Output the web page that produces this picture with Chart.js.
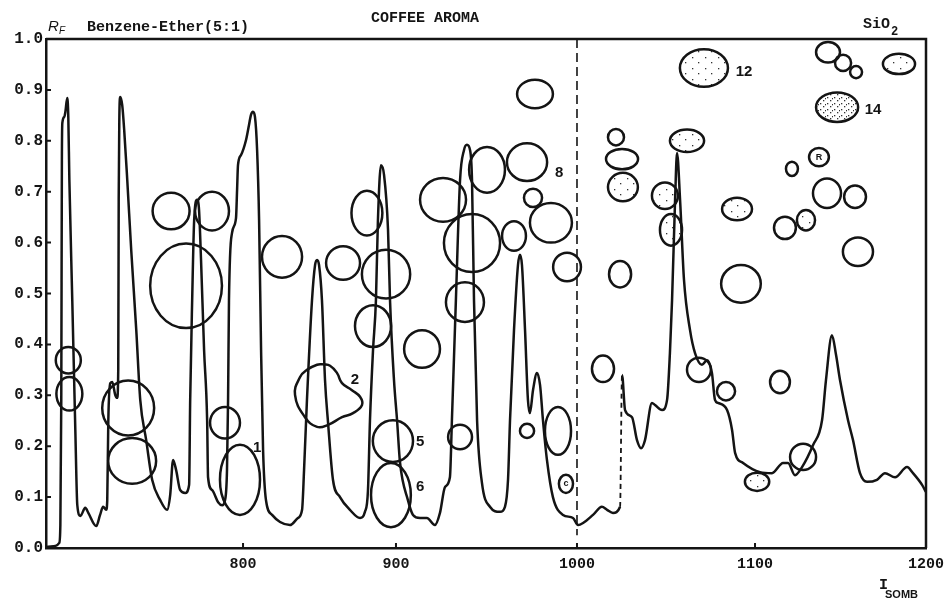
<!DOCTYPE html>
<html><head><meta charset="utf-8">
<script src="https://cdn.jsdelivr.net/npm/chart.js@4.4.0/dist/chart.umd.min.js"></script>
<style>html,body{margin:0;padding:0;background:#fff}canvas{display:block}</style>
</head><body>
<canvas id="c" width="946" height="602"></canvas>
<script>
// ---- Axis definition (printed retention-index scale is not uniform) ----
const X_TICKS = [800, 900, 1000, 1100, 1200];
const X_TICK_LABELS = ['800', '900', '1000', '1100', '1200'];
const AXIS_KNOTS_I = [671, 800, 900, 1000, 1100, 1200];
const AXIS_KNOTS_FRAC = [0, 0.2239, 0.3977, 0.6034, 0.8057, 1];
const Y_MIN = 0, Y_MAX = 1, Y_STEP = 0.1;

// ---- Chromatogram trace (I_SOMB, Rf scale) ----
const TRACE_I = [671.2,677.1,679.7,680.4,681.0,681.4,681.7,683.0,683.7,684.9,685.6,686.3,688.2,690.2,691.5,693.5,696.7,698.7,703.9,706.4,708.4,710.4,711.1,711.8,713.1,714.4,716.3,717.6,718.3,718.6,719.0,719.6,720.9,722.2,724.2,726.8,730.1,732.7,736.6,740.5,745.8,750.3,752.3,754.2,756.2,758.8,762.1,764.7,765.4,766.7,768.0,769.9,771.2,772.5,774.5,776.5,777.1,779.7,783.7,786.3,788.2,789.5,790.2,790.8,792.8,795.4,796.1,796.7,798.7,802.0,803.9,805.2,806.5,807.8,809.2,810.5,811.8,813.1,815.0,819.0,824.2,830.7,835.9,838.6,839.9,841.8,845.1,847.1,848.4,849.7,851.6,853.6,855.6,858.8,863.4,869.9,876.5,879.7,881.7,883.0,885.0,886.9,888.2,890.2,892.2,894.8,896.1,898.7,900.6,902.2,906.6,909.4,913.3,917.1,921.5,924.3,927.1,929.8,930.9,933.1,935.4,937.6,939.2,940.9,942.0,943.1,944.8,947.5,951.9,957.5,960.2,961.9,963.0,965.2,967.4,968.5,969.6,971.3,972.9,974.0,975.7,977.9,979.6,981.2,983.4,986.7,992.3,997.8,1000.6,1003.4,1009.0,1014.0,1016.9,1020.2,1024.2,1025.3,1027.0,1030.9,1033.7,1036.0,1038.2,1042.1,1043.8,1047.8,1050.6,1052.2,1053.4,1055.1,1056.2,1057.9,1060.1,1063.5,1066.3,1070.2,1073.0,1075.8,1077.5,1079.2,1084.3,1087.1,1088.8,1093.3,1102.9,1109.9,1116.4,1119.3,1123.4,1127.5,1133.9,1139.2,1141.5,1145.0,1147.4,1149.7,1154.4,1157.3,1161.4,1165.5,1171.3,1176.0,1181.9,1188.9,1192.4,1197.7,1200];
const TRACE_RF = [0.002,0.004,0.010,0.045,0.291,0.762,0.835,0.847,0.857,0.884,0.847,0.723,0.487,0.232,0.084,0.063,0.079,0.069,0.043,0.065,0.081,0.075,0.094,0.251,0.324,0.326,0.301,0.295,0.350,0.684,0.841,0.886,0.870,0.821,0.723,0.585,0.428,0.291,0.212,0.134,0.094,0.075,0.104,0.173,0.153,0.114,0.108,0.124,0.291,0.487,0.644,0.684,0.664,0.566,0.389,0.251,0.139,0.114,0.090,0.084,0.094,0.153,0.291,0.487,0.619,0.648,0.703,0.752,0.772,0.802,0.831,0.851,0.857,0.847,0.782,0.644,0.389,0.193,0.094,0.065,0.051,0.045,0.059,0.075,0.153,0.291,0.487,0.556,0.566,0.556,0.487,0.330,0.246,0.134,0.100,0.075,0.059,0.071,0.114,0.251,0.389,0.487,0.644,0.752,0.733,0.625,0.487,0.330,0.251,0.169,0.094,0.065,0.059,0.059,0.045,0.069,0.120,0.139,0.251,0.487,0.723,0.782,0.792,0.782,0.723,0.487,0.251,0.128,0.081,0.071,0.081,0.134,0.251,0.428,0.556,0.576,0.556,0.428,0.291,0.265,0.310,0.344,0.320,0.251,0.173,0.100,0.065,0.059,0.045,0.049,0.065,0.081,0.075,0.069,0.081,0.340,0.271,0.257,0.212,0.196,0.212,0.285,0.281,0.271,0.291,0.383,0.487,0.684,0.776,0.684,0.527,0.428,0.383,0.360,0.369,0.344,0.291,0.285,0.271,0.232,0.187,0.167,0.149,0.147,0.167,0.167,0.143,0.159,0.202,0.251,0.330,0.418,0.379,0.330,0.251,0.212,0.147,0.130,0.134,0.147,0.139,0.159,0.147,0.124,0.110];
const TRACE_DASHED_FROM_I = 1024.2;   // hand-drawn dashed part of the trace
const MARKER_I = 1000;                 // dashed vertical reference line
const MARKER_RF = [1.0, 0.025];

// ---- TLC spots (centre I, centre Rf, half-width in I, half-height in Rf, shading) ----
const SPOT_I  = [685.6,686.3,724.8,727.4,752.9,779.7,762.7,788.2,798.0,825.5,865.4,881.0,893.5,885.0,914.4,898.0,896.7,935.4,926.0,942.0,938.1,950.3,972.4,976.8,975.7,985.6,965.2,994.5,972.4,989.5,993.9,1021.9,1025.3,1025.8,1024.2,1014.6,1061.8,1049.4,1052.8,1089.9,1092.1,1068.5,1083.7,1114.6,1121.6,1137.4,1142.1,1158.5,1129.8,1117.5,1160.2,1101.2,1128.1,1071.3,1142.7,1151.5,1159.1,1184.2,1148.0];
const SPOT_RF = [0.369,0.303,0.275,0.171,0.662,0.662,0.515,0.246,0.134,0.572,0.560,0.658,0.538,0.436,0.391,0.210,0.104,0.218,0.684,0.599,0.483,0.743,0.758,0.892,0.688,0.639,0.613,0.552,0.230,0.230,0.126,0.807,0.764,0.709,0.538,0.352,0.800,0.692,0.625,0.666,0.519,0.350,0.308,0.326,0.745,0.768,0.697,0.690,0.644,0.629,0.582,0.130,0.179,0.943,0.974,0.953,0.935,0.951,0.866];
const SPOT_RX = [8.2,8.5,17.0,15.7,12.1,11.1,23.5,9.8,13.1,13.1,11.1,10.1,15.0,11.8,9.9,12.2,12.2,6.6,12.7,15.5,10.5,9.9,11.1,9.9,5.0,11.6,6.6,7.7,3.9,7.2,3.9,4.5,9.0,8.4,6.2,6.2,9.6,7.3,6.2,8.4,11.2,6.7,5.1,5.8,3.5,5.8,8.2,6.4,5.3,6.4,8.8,7.0,7.6,13.5,7.0,4.7,3.5,9.4,12.3];
const SPOT_RY = [0.026,0.033,0.054,0.045,0.036,0.038,0.083,0.031,0.069,0.041,0.033,0.044,0.048,0.041,0.037,0.041,0.063,0.024,0.043,0.057,0.039,0.045,0.037,0.028,0.018,0.039,0.029,0.028,0.014,0.047,0.018,0.016,0.020,0.028,0.026,0.026,0.022,0.026,0.031,0.022,0.037,0.024,0.018,0.022,0.014,0.018,0.029,0.022,0.020,0.022,0.028,0.018,0.026,0.037,0.020,0.016,0.012,0.020,0.029];
const SPOT_SHADE = ['','','','','','','','','','','','','','','','','','','','','','','','','','','','','','','','','','s','','','s','s','s','s','','','','','','','','','s','','','s','','s','','','','s','h'];

// ---- Irregular spot no. 2 outline ----
const BLOB2_I  = [852.3,856.9,861.4,864.7,871.2,876.5,877.8,871.9,864.7,855.6,848.4,840.5,834.0,837.3,841.8,848.4,852.3];
const BLOB2_RF = [0.361,0.358,0.344,0.324,0.310,0.297,0.281,0.265,0.257,0.242,0.238,0.257,0.301,0.336,0.350,0.360,0.361];

// ---- Spot numbers ----
const LABEL_TEXT = ['1','2','5','6','8','12','14'];
const LABEL_I    = [809.2,873.2,913.3,913.3,990.1,1093.8,1169.0];
const LABEL_RF   = [0.196,0.330,0.208,0.120,0.737,0.935,0.861];
const INNER_TEXT = ['R','c'];
const INNER_I    = [1137.4,993.9];
const INNER_RF   = [0.768,0.126];

function warp(I) {
  const K = AXIS_KNOTS_I, F = AXIS_KNOTS_FRAC;
  let i = 0;
  while (i < K.length - 2 && I > K[i + 1]) i++;
  return F[i] + (I - K[i]) * (F[i + 1] - F[i]) / (K[i + 1] - K[i]);
}

const INK = '#141414';
const dashIdx = TRACE_I.indexOf(TRACE_DASHED_FROM_I);

function makePattern(ctx, w, h, dots) {
  const c = document.createElement('canvas');
  c.width = w; c.height = h;
  const g = c.getContext('2d');
  g.fillStyle = '#333';
  dots.forEach(d => g.fillRect(d[0], d[1], 1.3, 1.3));
  return ctx.createPattern(c, 'repeat');
}

const spotsPlugin = {
  id: 'spots',
  afterDatasetsDraw(chart) {
    const ctx = chart.ctx, xs = chart.scales.x, ys = chart.scales.y;
    const light = makePattern(ctx, 13, 11, [[3, 2], [9, 7]]);
    const heavy = makePattern(ctx, 7, 6, [[1, 1], [4, 4], [6, 2]]);
    ctx.save();
    ctx.strokeStyle = INK;
    ctx.lineWidth = 2.5;
    for (let k = 0; k < SPOT_I.length; k++) {
      const cx = xs.getPixelForValue(warp(SPOT_I[k]));
      const x0 = xs.getPixelForValue(warp(SPOT_I[k] - SPOT_RX[k]));
      const x1 = xs.getPixelForValue(warp(SPOT_I[k] + SPOT_RX[k]));
      const cy = ys.getPixelForValue(SPOT_RF[k]);
      const ry = Math.abs(ys.getPixelForValue(SPOT_RF[k] + SPOT_RY[k]) - cy);
      const rx = (x1 - x0) / 2;
      ctx.beginPath();
      ctx.ellipse(cx, cy, rx, ry, 0, 0, Math.PI * 2);
      if (SPOT_SHADE[k] === 's') { ctx.fillStyle = light; ctx.fill(); }
      if (SPOT_SHADE[k] === 'h') { ctx.fillStyle = heavy; ctx.fill(); }
      ctx.stroke();
    }
    ctx.fillStyle = INK;
    ctx.textAlign = 'center';
    ctx.textBaseline = 'middle';
    ctx.font = 'bold 15px "Liberation Sans"';
    LABEL_TEXT.forEach((t, k) => {
      ctx.fillText(t, xs.getPixelForValue(warp(LABEL_I[k])), ys.getPixelForValue(LABEL_RF[k]));
    });
    ctx.font = 'bold 9px "Liberation Sans"';
    INNER_TEXT.forEach((t, k) => {
      ctx.fillText(t, xs.getPixelForValue(warp(INNER_I[k])), ys.getPixelForValue(INNER_RF[k]));
    });
    ctx.restore();
  }
};

const framePlugin = {
  id: 'frame',
  afterDraw(chart) {
    const ctx = chart.ctx, a = chart.chartArea, xs = chart.scales.x, ys = chart.scales.y;
    ctx.save();
    ctx.strokeStyle = INK;
    ctx.lineWidth = 2.5;
    ctx.beginPath();
    ctx.moveTo(a.left, a.top);
    ctx.lineTo(a.right, a.top);
    ctx.lineTo(a.right, a.bottom);
    ctx.stroke();
    // short inward tick marks
    ctx.lineWidth = 2;
    ctx.beginPath();
    ys.ticks.forEach(t => {
      const y = ys.getPixelForValue(t.value);
      ctx.moveTo(a.left, y); ctx.lineTo(a.left + 5, y);
    });
    xs.ticks.forEach(t => {
      const x = xs.getPixelForValue(t.value);
      ctx.moveTo(x, a.bottom); ctx.lineTo(x, a.bottom - 5);
    });
    ctx.stroke();
    // header texts
    ctx.fillStyle = INK;
    ctx.textBaseline = 'middle';
    ctx.textAlign = 'center';
    ctx.font = 'bold 15px "Liberation Mono"';
    ctx.fillText('COFFEE AROMA', a.left + 379, 18);
    ctx.textAlign = 'left';
    ctx.fillText('Benzene-Ether(5:1)', a.left + 41, a.top - 12);
    ctx.fillText('SiO', a.right - 63, a.top - 15);
    ctx.font = 'bold 12px "Liberation Mono"';
    ctx.fillText('2', a.right - 35, a.top - 7);
    ctx.font = 'italic 15px "Liberation Sans"';
    ctx.fillText('R', a.left + 2, a.top - 12);
    ctx.font = 'italic 10px "Liberation Sans"';
    ctx.fillText('F', a.left + 13, a.top - 8);
    // x-axis title
    ctx.font = 'bold 15px "Liberation Mono"';
    ctx.fillText('I', a.right - 47, a.bottom + 37);
    ctx.font = 'bold 11px "Liberation Sans"';
    ctx.fillText('SOMB', a.right - 41, a.bottom + 47);
    ctx.restore();
  }
};

new Chart(document.getElementById('c'), {
  type: 'line',
  data: {
    datasets: [
      {
        label: 'trace',
        data: TRACE_I.map((v, i) => ({ x: warp(v), y: TRACE_RF[i] })),
        borderColor: INK, borderWidth: 2.5, pointRadius: 0, fill: false,
        tension: 0.4, cubicInterpolationMode: 'monotone',
        segment: {
          borderDash: c => c.p0DataIndex === dashIdx ? [5, 4] : undefined,
          borderWidth: c => c.p0DataIndex === dashIdx ? 1.8 : undefined
        }
      },
      {
        label: 'spot 2',
        data: BLOB2_I.map((v, i) => ({ x: warp(v), y: BLOB2_RF[i] })),
        borderColor: INK, borderWidth: 2.5, pointRadius: 0, fill: false, tension: 0.45
      },
      {
        label: 'I = 1000',
        data: MARKER_RF.map(r => ({ x: warp(MARKER_I), y: r })),
        borderColor: INK, borderWidth: 1.6, borderDash: [9, 5], pointRadius: 0, fill: false
      }
    ]
  },
  options: {
    responsive: false, animation: false, devicePixelRatio: 1,
    layout: { autoPadding: false, padding: { top: 39, right: 20, left: 0, bottom: 0 } },
    plugins: { legend: { display: false }, tooltip: { enabled: false }, title: { display: false } },
    scales: {
      x: {
        type: 'linear', min: 0, max: 1,
        afterFit: s => { s.height = 54; s.paddingRight = 0; s.paddingLeft = 0; },
        afterBuildTicks: s => { s.ticks = X_TICKS.map(v => ({ value: warp(v) })); },
        ticks: {
          callback: (v, i) => X_TICK_LABELS[i],
          font: { family: 'Liberation Mono', size: 15, weight: 'bold' },
          color: INK, padding: 7, maxRotation: 0, autoSkip: false
        },
        grid: { display: false, drawTicks: false },
        border: { display: true, color: INK, width: 2.5 }
      },
      y: {
        type: 'linear', min: Y_MIN, max: Y_MAX,
        afterFit: s => { s.width = 46; s.paddingTop = 0; s.paddingBottom = 0; },
        ticks: {
          stepSize: Y_STEP,
          callback: v => Number(v).toFixed(1),
          font: { family: 'Liberation Mono', size: 16, weight: 'bold' },
          color: INK, padding: 3
        },
        grid: { display: false, drawTicks: false },
        border: { display: true, color: INK, width: 2.5 }
      }
    }
  },
  plugins: [framePlugin, spotsPlugin]
});
</script>
</body></html>
